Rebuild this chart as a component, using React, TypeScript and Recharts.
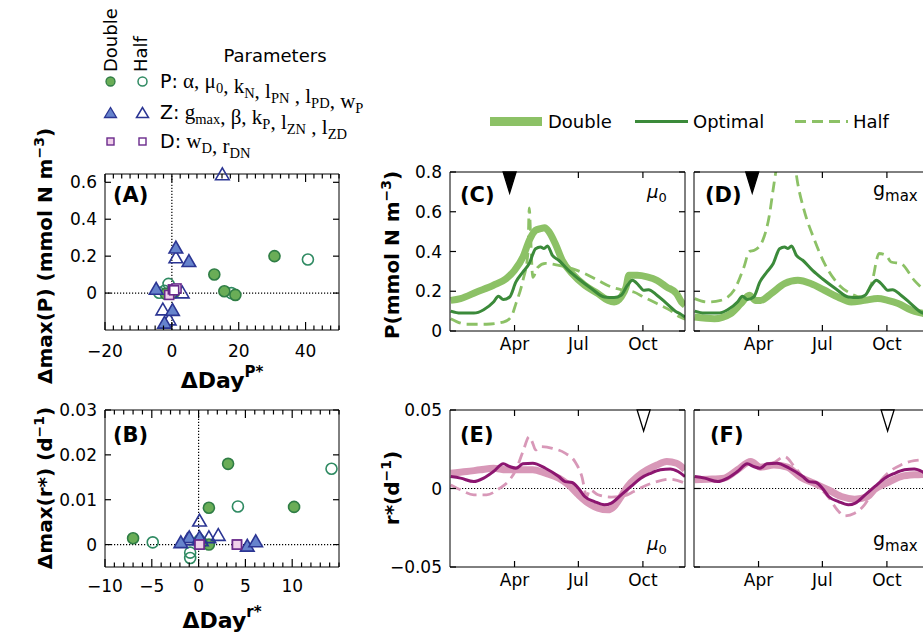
import React from 'react';
import { LineChart, Line, ScatterChart, Scatter, XAxis, YAxis, ReferenceLine, ReferenceDot } from 'recharts';

const SANS = "'DejaVu Sans', 'Liberation Sans', sans-serif";
const SERIF = "'Liberation Serif', 'DejaVu Serif', serif";

// ---------------- Panel A: Δmax(P) vs ΔDay P* ----------------
const aPDouble = [[12.7, 0.101], [15.7, 0.01], [19, -0.01], [30.7, 0.2], [-1.8, -0.004], [0.6, 0.003]];
const aPHalf = [[40.7, 0.182], [17.8, 0.0], [-1.0, 0.05], [-3.8, 0.002], [-0.2, 0.008], [-2.2, 0.012]];
const aZDouble = [[1.2, 0.243], [5.1, 0.17], [-4.7, 0.02], [0.2, -0.095], [-2.2, -0.164]];
const aZHalf = [[15.1, 0.64], [1.2, 0.19], [3.1, 0.0], [-2.7, -0.092], [-0.8, -0.146]];
const aDDouble = [[-0.8, -0.01], [0.3, 0.02]];
const aDHalf = [[1.4, 0.025], [0.7, 0.015]];

// ---------------- Panel B: Δmax(r*) vs ΔDay r* ----------------
const bPDouble = [[-7, 0.0014], [3.15, 0.018], [1.1, 0.0082], [10.2, 0.0084], [1.1, 0.0], [0.3, 0.0005]];
const bPHalf = [[-4.9, 0.0005], [14.2, 0.0169], [4.2, 0.0085], [-0.9, -0.0018], [-0.9, -0.003], [0.1, 0.001]];
const bZDouble = [[-1, 0.0015], [0.1, 0.0015], [-1.9, 0.0004], [5.2, -0.0004], [6.1, 0.0006]];
const bZHalf = [[0.1, 0.0052], [1.1, 0.0015], [2.1, 0.002], [-1.2, 0.001], [0.3, 0.0008]];
const bDDouble = [[0.1, 0.0], [4.1, 0.0]];
const bDHalf = [[0.1, 0.0], [4.1, 0.0]];

// ---------------- Time series (day of year, value) ----------------
const pOptimal = [[0, 0.1], [14, 0.09], [33, 0.09], [47, 0.107], [61, 0.146], [68, 0.175], [75, 0.158], [84, 0.171], [93, 0.247], [103, 0.297], [112, 0.34], [121, 0.414], [128, 0.423], [133, 0.415], [138, 0.428], [145, 0.38], [154, 0.356], [168, 0.305], [182, 0.263], [201, 0.213], [219, 0.171], [233, 0.168], [243, 0.18], [252, 0.23], [259, 0.255], [268, 0.23], [275, 0.205], [282, 0.208], [294, 0.18], [308, 0.138], [322, 0.096], [327, 0.087], [334, 0.07]];
const pDoubleMu = [[0, 0.154], [14, 0.163], [37, 0.196], [61, 0.23], [79, 0.263], [91, 0.305], [103, 0.372], [112, 0.456], [121, 0.507], [128, 0.515], [134, 0.52], [140, 0.5], [149, 0.44], [159, 0.356], [173, 0.289], [191, 0.23], [210, 0.188], [224, 0.154], [233, 0.146], [243, 0.171], [250, 0.221], [254, 0.28], [266, 0.28], [280, 0.272], [294, 0.255], [308, 0.221], [322, 0.188], [329, 0.146], [334, 0.13]];
const pHalfMu = [[0, 0.062], [23, 0.034], [51, 0.034], [75, 0.045], [86, 0.07], [93, 0.138], [103, 0.255], [110, 0.39], [112, 0.62], [114, 0.47], [117, 0.27], [124, 0.32], [135, 0.34], [154, 0.33], [173, 0.314], [191, 0.289], [210, 0.255], [229, 0.221], [247, 0.205], [261, 0.196], [275, 0.171], [294, 0.138], [313, 0.104], [327, 0.07], [334, 0.06]];
const pDoubleG = [[0, 0.07], [28, 0.062], [51, 0.087], [66, 0.138], [78, 0.18], [87, 0.154], [94, 0.154], [109, 0.188], [128, 0.238], [147, 0.255], [166, 0.238], [185, 0.205], [204, 0.171], [223, 0.146], [242, 0.154], [261, 0.163], [275, 0.154], [290, 0.138], [309, 0.104], [327, 0.087], [334, 0.08]];
const pHalfG = [[0, 0.163], [18, 0.146], [37, 0.154], [56, 0.205], [70, 0.32], [78, 0.4], [85, 0.406], [97, 0.456], [106, 0.574], [113, 0.74], [118, 0.85], [125, 0.93], [135, 0.93], [142, 0.85], [147, 0.74], [156, 0.607], [171, 0.456], [185, 0.34], [204, 0.238], [223, 0.188], [237, 0.171], [252, 0.238], [263, 0.39], [273, 0.38], [280, 0.347], [294, 0.339], [313, 0.255], [327, 0.205], [334, 0.18]];

const rOptimal = [[0, 0.0076], [14, 0.0066], [33, 0.0044], [47, 0.0066], [61, 0.0108], [75, 0.0157], [84, 0.014], [93, 0.0129], [103, 0.0157], [117, 0.0161], [135, 0.0129], [154, 0.0076], [163, 0.0044], [173, 0.0038], [182, 0.0002], [191, -0.0051], [205, -0.0083], [219, -0.0104], [229, -0.0093], [243, -0.004], [257, 0.0013], [271, 0.0066], [285, 0.0097], [299, 0.0119], [313, 0.0125], [324, 0.0108], [334, 0.0076]];
const rDoubleMu = [[0, 0.0097], [23, 0.0108], [42, 0.0119], [61, 0.0129], [79, 0.0119], [98, 0.0119], [117, 0.0119], [135, 0.0097], [154, 0.0066], [168, 0.0023], [182, -0.004], [196, -0.0093], [210, -0.0125], [224, -0.0136], [233, -0.0114], [243, -0.0051], [252, 0.0013], [266, 0.0076], [280, 0.0119], [294, 0.015], [308, 0.0172], [322, 0.0161], [334, 0.0119]];
const rHalfMu = [[0, 0.0023], [14, -0.0008], [33, -0.004], [51, -0.004], [70, 0.0002], [84, 0.0055], [93, 0.0119], [103, 0.0235], [112, 0.033], [117, 0.0288], [121, 0.0246], [128, 0.0267], [145, 0.0256], [163, 0.0225], [177, 0.0172], [187, 0.0076], [194, -0.0051], [198, -0.0008], [210, -0.004], [229, -0.0055], [247, -0.0047], [261, -0.0019], [275, 0.0013], [294, 0.0044], [313, 0.0059], [334, 0.0034]];
const rDoubleG = [[0, 0.0055], [18, 0.0059], [42, 0.0066], [61, 0.0119], [80, 0.0172], [94, 0.0136], [113, 0.015], [132, 0.0136], [151, 0.0072], [170, 0.0034], [190, -0.0008], [209, -0.0051], [228, -0.0068], [247, -0.0051], [256, -0.0008], [275, 0.0038], [294, 0.0076], [313, 0.0087], [334, 0.009]];
const rHalfG = [[0, 0.0066], [18, 0.0055], [42, 0.0059], [61, 0.0119], [80, 0.0178], [94, 0.014], [113, 0.0165], [128, 0.0203], [142, 0.014], [156, 0.0066], [175, 0.0013], [190, -0.0051], [204, -0.014], [213, -0.0174], [228, -0.0157], [242, -0.0104], [256, -0.0004], [275, 0.0097], [294, 0.015], [313, 0.0178], [334, 0.0185]];

// timing markers (day of year)
const markerPMu = 84;
const markerPG = 82;
const markerRMu = 275;
const markerRG = 275;

// axes
const DAY_DOMAIN: [number, number] = [-1, 334];
const MONTH_TICKS = [91, 182, 274];
const MONTH_LABELS = ['Apr', 'Jul', 'Oct'];
const A_X_MAJOR = [-20, 0, 20, 40];
const A_X_STEP = 2.5;
const A_Y_TICKS = [0, 0.2, 0.4, 0.6];
const B_X_MAJOR = [-10, -5, 0, 5, 10];
const B_X_STEP = 1;
const B_Y_TICKS = [0, 0.01, 0.02, 0.03];
const P_TICKS = [0, 0.2, 0.4, 0.6, 0.8];
const R_TICKS = [-0.05, 0, 0.05];

// colours
const G_BAND = '#8cc166';
const G_OPT = '#3b8a3a';
const M_BAND = '#d898b8';
const M_OPT = '#8c1670';
const C_FILL = '#6aad57', C_EDGE = '#2f7d45', C_OPEN = '#2f8a62';
const T_FILL = '#6683cc', T_EDGE = '#2b3593';
const S_FILL = '#f0d0ea', S_EDGE = '#6a2a8c';

type Rect = { L: number; T: number; W: number; H: number };
const AX_L = 70, AX_R = 30, AX_T = 30, AX_B = 50;
const M0 = { top: 0, right: 0, bottom: 0, left: 0 };

const pts = (a: number[][]) => a.map(([x, y]) => ({ x, y }));
const fmt = (v: number) => String(v).replace('-', '\u2212');
const steps = (lo: number, hi: number, s: number) => {
  const out: number[] = [];
  for (let v = lo; v <= hi + 1e-9; v += s) out.push(Math.round(v * 100) / 100);
  return out;
};

// Generic tick: draws its own inward tick line (tickSize=0, tickMargin=0 => x/y are on the axis line)
function AxisTick(props: any) {
  const { x, y, payload, side, majors, majorLen = 5, minorLen = 4, label, labelDy = 19, skip } = props;
  const v = payload.value;
  const isMajor = !majors || majors.includes(v);
  const len = isMajor ? majorLen : minorLen;
  const txt = isMajor && label ? label(v) : '';
  const ln = { stroke: '#000', strokeWidth: 1.2 };
  if (side === 'bottom')
    return (
      <g>
        <line x1={x} x2={x} y1={y} y2={y - len} {...ln} />
        {txt ? <text x={x} y={y + labelDy} textAnchor="middle" fontFamily={SANS} fontSize={17} fill="#000">{txt}</text> : null}
      </g>
    );
  if (side === 'top') return skip === v ? <g /> : <line x1={x} x2={x} y1={y} y2={y + len} {...ln} />;
  if (side === 'left')
    return (
      <g>
        <line x1={x} x2={x + len} y1={y} y2={y} {...ln} />
        {txt ? <text x={x - 8} y={y + 6} textAnchor="end" fontFamily={SANS} fontSize={17} fill="#000">{txt}</text> : null}
      </g>
    );
  return <line x1={x} x2={x - len} y1={y} y2={y} {...ln} />;
}

const monthLabel = (v: number) => {
  const i = MONTH_TICKS.indexOf(v);
  return i >= 0 ? MONTH_LABELS[i] : '';
};

const shape = (kind: 'c' | 't' | 's', filled: boolean) => (p: any) => {
  const { cx, cy } = p;
  if (cx == null || cy == null) return <g />;
  if (kind === 'c')
    return <circle cx={cx} cy={cy} r={5.5} fill={filled ? C_FILL : 'none'} stroke={filled ? C_EDGE : C_OPEN} strokeWidth={1.6} />;
  if (kind === 't')
    return (
      <polygon
        points={`${cx},${cy - 7} ${cx - 6.8},${cy + 4.8} ${cx + 6.8},${cy + 4.8}`}
        fill={filled ? T_FILL : 'none'}
        stroke={T_EDGE}
        strokeWidth={1.6}
        strokeLinejoin="miter"
      />
    );
  return <rect x={cx - 4.5} y={cy - 4.5} width={9} height={9} fill={filled ? S_FILL : '#fff'} stroke={S_EDGE} strokeWidth={1.6} />;
};

type Group = { data: number[][]; kind: 'c' | 't' | 's'; filled: boolean };

const axisCommon = { tickLine: false, tickSize: 0, tickMargin: 0, stroke: '#000', interval: 0 as const };

function ScatterPanel(props: {
  rect: Rect; xDomain: [number, number]; xStep: number; xMajor: number[];
  yDomain: [number, number]; yTicks: number[]; labelDy: number; groups: Group[];
}) {
  const { rect, xDomain, xStep, xMajor, yDomain, yTicks, labelDy, groups } = props;
  const minor = steps(xDomain[0], xDomain[1], xStep);
  return (
    <div style={{ position: 'absolute', left: rect.L - AX_L, top: rect.T - AX_T }}>
      <ScatterChart width={rect.W + AX_L + AX_R} height={rect.H + AX_T + AX_B} margin={M0}>
        <XAxis type="number" dataKey="x" domain={xDomain} ticks={minor} height={AX_B} {...axisCommon}
          tick={<AxisTick side="bottom" majors={xMajor} majorLen={8} minorLen={4.5} label={fmt} labelDy={labelDy} />} />
        <XAxis xAxisId="t" orientation="top" type="number" dataKey="x" domain={xDomain} ticks={minor} allowDataOverflow
          height={AX_T} {...axisCommon} tick={<AxisTick side="top" majors={xMajor} majorLen={8} minorLen={4.5} />} />
        <YAxis type="number" dataKey="y" domain={yDomain} ticks={yTicks} width={AX_L} {...axisCommon}
          tick={<AxisTick side="left" majorLen={6} label={fmt} />} />
        <YAxis yAxisId="r" orientation="right" type="number" dataKey="y" domain={yDomain} ticks={yTicks} allowDataOverflow
          width={AX_R} {...axisCommon} tick={<AxisTick side="right" majorLen={6} />} />
        <ReferenceLine x={0} stroke="#000" strokeDasharray="1.2 1.8" strokeWidth={1.2} />
        <ReferenceLine y={0} stroke="#000" strokeDasharray="1.2 1.8" strokeWidth={1.2} />
        {groups.map((g, i) => (
          <Scatter key={i} data={pts(g.data)} shape={shape(g.kind, g.filled)} isAnimationActive={false} />
        ))}
      </ScatterChart>
    </div>
  );
}

function LinePanel(props: {
  rect: Rect; yDomain: [number, number]; yTicks: number[]; yLabels: boolean;
  band: number[][]; half: number[][]; optimal: number[][];
  bandColor: string; optColor: string; bandWidth: number;
  markerDay: number; markerFilled: boolean; zero: boolean;
}) {
  const { rect, yDomain, yTicks, yLabels, band, half, optimal, bandColor, optColor, bandWidth, markerDay, markerFilled, zero } = props;
  const top = yDomain[1];
  // the top tick nearest to the marker is hidden under it in the original figure
  const hidden = MONTH_TICKS.reduce((b, t) => (Math.abs(t - markerDay) < Math.abs(b - markerDay) ? t : b), MONTH_TICKS[0]);
  return (
    <div style={{ position: 'absolute', left: rect.L - AX_L, top: rect.T - AX_T }}>
      <LineChart width={rect.W + AX_L + AX_R} height={rect.H + AX_T + AX_B} margin={M0}>
        <XAxis type="number" dataKey="x" domain={DAY_DOMAIN} ticks={MONTH_TICKS} allowDataOverflow
          height={AX_B} {...axisCommon} tick={<AxisTick side="bottom" majorLen={6} label={monthLabel} labelDy={19} />} />
        <XAxis xAxisId="t" orientation="top" type="number" dataKey="x" domain={DAY_DOMAIN} ticks={MONTH_TICKS}
          allowDataOverflow height={AX_T} {...axisCommon} tick={<AxisTick side="top" majorLen={6} skip={hidden} />} />
        <YAxis type="number" domain={yDomain} ticks={yTicks} allowDataOverflow width={AX_L} {...axisCommon}
          tick={<AxisTick side="left" majorLen={6} label={yLabels ? fmt : null} />} />
        <YAxis yAxisId="r" orientation="right" type="number" domain={yDomain} ticks={yTicks}
          allowDataOverflow width={AX_R} {...axisCommon} tick={<AxisTick side="right" majorLen={6} />} />
        {zero ? <ReferenceLine y={0} stroke="#000" strokeDasharray="1.2 1.8" strokeWidth={1.2} /> : null}
        <Line data={pts(band)} dataKey="y" type="monotone" stroke={bandColor} strokeWidth={bandWidth}
          dot={false} activeDot={false} isAnimationActive={false} />
        <Line data={pts(half)} dataKey="y" type="monotone" stroke={bandColor} strokeWidth={2.8}
          strokeDasharray="11 6" dot={false} activeDot={false} isAnimationActive={false} />
        <Line data={pts(optimal)} dataKey="y" type="monotone" stroke={optColor} strokeWidth={3}
          dot={false} activeDot={false} isAnimationActive={false} />
        <ReferenceDot x={markerDay} y={top} r={0} ifOverflow="visible"
          shape={(p: any) => (
            <polygon points={`${p.cx - 6.5},${p.cy} ${p.cx + 6.5},${p.cy} ${p.cx},${p.cy + 21}`}
              fill={markerFilled ? '#000' : '#fff'} stroke="#000" strokeWidth={1.3} />
          )} />
      </LineChart>
    </div>
  );
}

const RA: Rect = { L: 105, T: 174, W: 234, H: 156 };
const RB: Rect = { L: 105, T: 410, W: 234, H: 157 };
const RC: Rect = { L: 450, T: 172, W: 235, H: 159 };
const RD: Rect = { L: 694, T: 172, W: 235, H: 159 };
const RE: Rect = { L: 450, T: 410, W: 235, H: 157 };
const RF: Rect = { L: 694, T: 410, W: 235, H: 157 };

const Sub = ({ t }: { t: string }) => (
  <>
    <tspan dy={5} fontSize={14.5}>{t}</tspan>
    <tspan dy={-5}>{''}</tspan>
  </>
);

function Overlay() {
  const bold = { fontFamily: SANS, fontWeight: 'bold' as const, fill: '#000' };
  return (
    <svg width={923} height={638} style={{ position: 'absolute', left: 0, top: 0, pointerEvents: 'none' }}>
      {/* marker legend */}
      <text transform="translate(117,72) rotate(-90)" fontFamily={SANS} fontSize={18}>Double</text>
      <text transform="translate(147,72) rotate(-90)" fontFamily={SANS} fontSize={18}>Half</text>
      <text x={275} y={62} textAnchor="middle" fontFamily={SANS} fontSize={18}>Parameters</text>
      <circle cx={110.5} cy={81.5} r={4.5} fill={C_FILL} stroke={C_EDGE} strokeWidth={1.3} />
      <circle cx={142.5} cy={81.5} r={4.5} fill="none" stroke={C_OPEN} strokeWidth={1.5} />
      <polygon points="110.5,107.5 104.5,117.5 116.5,117.5" fill={T_FILL} stroke={T_EDGE} strokeWidth={1.3} />
      <polygon points="142.5,107.5 136.5,117.5 148.5,117.5" fill="none" stroke={T_EDGE} strokeWidth={1.5} />
      <rect x={107} y={138} width={7} height={7} fill={S_FILL} stroke={S_EDGE} strokeWidth={1.4} />
      <rect x={139} y={138} width={7} height={7} fill="#fff" stroke={S_EDGE} strokeWidth={1.4} />
      <text x={160} y={88} fontFamily={SERIF} fontSize={21}>
        <tspan fontFamily={SANS} fontSize={19}>P:</tspan>
        <tspan> α, μ</tspan><Sub t="0" /><tspan>, k</tspan><Sub t="N" /><tspan>, l</tspan><Sub t="PN" />
        <tspan> , l</tspan><Sub t="PD" /><tspan>, w</tspan><Sub t="P" />
      </text>
      <text x={160} y={119} fontFamily={SERIF} fontSize={21}>
        <tspan fontFamily={SANS} fontSize={19}>Z:</tspan>
        <tspan> g</tspan><Sub t="max" /><tspan>, β, k</tspan><Sub t="P" /><tspan>, l</tspan><Sub t="ZN" />
        <tspan> , l</tspan><Sub t="ZD" />
      </text>
      <text x={160} y={148} fontFamily={SERIF} fontSize={21}>
        <tspan fontFamily={SANS} fontSize={19}>D:</tspan>
        <tspan> w</tspan><Sub t="D" /><tspan>, r</tspan><Sub t="DN" />
      </text>

      {/* line legend */}
      <line x1={490} x2={542} y1={121.5} y2={121.5} stroke={G_BAND} strokeWidth={9} />
      <text x={548} y={128} fontFamily={SANS} fontSize={18}>Double</text>
      <line x1={635} x2={688} y1={121.5} y2={121.5} stroke={G_OPT} strokeWidth={3} />
      <text x={693} y={128} fontFamily={SANS} fontSize={18}>Optimal</text>
      <line x1={795} x2={848} y1={121.5} y2={121.5} stroke={G_BAND} strokeWidth={3} strokeDasharray="11 6" />
      <text x={853} y={128} fontFamily={SANS} fontSize={18}>Half</text>

      {/* panel labels */}
      <text x={113} y={202} {...bold} fontSize={21}>(A)</text>
      <text x={113} y={442} {...bold} fontSize={21}>(B)</text>
      <text x={460} y={202} {...bold} fontSize={21}>(C)</text>
      <text x={705} y={202} {...bold} fontSize={21}>(D)</text>
      <text x={460} y={442} {...bold} fontSize={21}>(E)</text>
      <text x={710} y={442} {...bold} fontSize={21}>(F)</text>

      {/* parameter labels */}
      <text x={647} y={198} fontFamily={SANS} fontStyle="italic" fontSize={18}>μ<tspan dy={4} fontSize={13} fontStyle="normal">0</tspan></text>
      <text x={873} y={196} fontFamily={SANS} fontSize={19}>g<tspan dy={5} fontSize={15}>max</tspan></text>
      <text x={647} y={550} fontFamily={SANS} fontStyle="italic" fontSize={18}>μ<tspan dy={4} fontSize={13} fontStyle="normal">0</tspan></text>
      <text x={873} y={546} fontFamily={SANS} fontSize={19}>g<tspan dy={5} fontSize={15}>max</tspan></text>

      {/* axis titles */}
      <text transform="translate(52,256) rotate(-90)" textAnchor="middle" {...bold} fontSize={20}>
        Δmax(P) (mmol N m<tspan dy={-8} fontSize={14}>−3</tspan><tspan dy={8}>)</tspan>
      </text>
      <text transform="translate(52,488) rotate(-90)" textAnchor="middle" {...bold} fontSize={20}>
        Δmax(r*) (d<tspan dy={-8} fontSize={14}>−1</tspan><tspan dy={8}>)</tspan>
      </text>
      <text x={222} y={388} textAnchor="middle" {...bold} fontSize={22}>
        ΔDay<tspan dy={-11} fontSize={15}>P*</tspan>
      </text>
      <text x={222} y={628} textAnchor="middle" {...bold} fontSize={22}>
        ΔDay<tspan dy={-11} fontSize={15}>r*</tspan>
      </text>
      <text transform="translate(399,255) rotate(-90)" textAnchor="middle" {...bold} fontSize={20}>
        P(mmol N m<tspan dy={-8} fontSize={14}>−3</tspan><tspan dy={8}>)</tspan>
      </text>
      <text transform="translate(399,488) rotate(-90)" textAnchor="middle" {...bold} fontSize={20}>
        r*(d<tspan dy={-8} fontSize={14}>−1</tspan><tspan dy={8}>)</tspan>
      </text>
    </svg>
  );
}

export default function App() {
  return (
    <div style={{ position: 'absolute', left: 0, top: 0, width: 923, height: 638, overflow: 'hidden', background: '#fff', fontFamily: SANS }}>
      <ScatterPanel rect={RA} xDomain={[-20, 50]} xStep={A_X_STEP} xMajor={A_X_MAJOR}
        yDomain={[-0.2, 0.645]} yTicks={A_Y_TICKS} labelDy={27}
        groups={[
          { data: aPHalf, kind: 'c', filled: false },
          { data: aPDouble, kind: 'c', filled: true },
          { data: aZHalf, kind: 't', filled: false },
          { data: aZDouble, kind: 't', filled: true },
          { data: aDDouble, kind: 's', filled: true },
          { data: aDHalf, kind: 's', filled: false },
        ]} />
      <ScatterPanel rect={RB} xDomain={[-10, 15]} xStep={B_X_STEP} xMajor={B_X_MAJOR}
        yDomain={[-0.005, 0.03]} yTicks={B_Y_TICKS} labelDy={25}
        groups={[
          { data: bPHalf, kind: 'c', filled: false },
          { data: bPDouble, kind: 'c', filled: true },
          { data: bZHalf, kind: 't', filled: false },
          { data: bZDouble, kind: 't', filled: true },
          { data: bDHalf, kind: 's', filled: false },
          { data: bDDouble, kind: 's', filled: true },
        ]} />
      <LinePanel rect={RC} yDomain={[0, 0.8]} yTicks={P_TICKS} yLabels={true} band={pDoubleMu} half={pHalfMu}
        optimal={pOptimal} bandColor={G_BAND} optColor={G_OPT} bandWidth={7} markerDay={markerPMu} markerFilled={true} zero={false} />
      <LinePanel rect={RD} yDomain={[0, 0.8]} yTicks={P_TICKS} yLabels={false} band={pDoubleG} half={pHalfG}
        optimal={pOptimal} bandColor={G_BAND} optColor={G_OPT} bandWidth={7} markerDay={markerPG} markerFilled={true} zero={false} />
      <LinePanel rect={RE} yDomain={[-0.05, 0.05]} yTicks={R_TICKS} yLabels={true} band={rDoubleMu} half={rHalfMu}
        optimal={rOptimal} bandColor={M_BAND} optColor={M_OPT} bandWidth={7} markerDay={markerRMu} markerFilled={false} zero={true} />
      <LinePanel rect={RF} yDomain={[-0.05, 0.05]} yTicks={R_TICKS} yLabels={false} band={rDoubleG} half={rHalfG}
        optimal={rOptimal} bandColor={M_BAND} optColor={M_OPT} bandWidth={7} markerDay={markerRG} markerFilled={false} zero={true} />
      <Overlay />
    </div>
  );
}
